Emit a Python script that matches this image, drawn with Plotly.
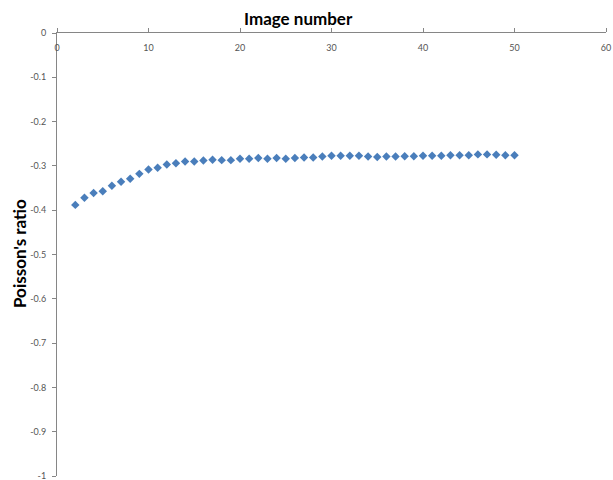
import plotly.graph_objects as go

# Image number vs Poisson's ratio
image_number = list(range(2, 51))
poisson_ratio = [
    -0.388, -0.372, -0.361, -0.357, -0.345, -0.336, -0.329, -0.318, -0.308,
    -0.304, -0.297, -0.294, -0.290, -0.290, -0.288, -0.286, -0.287, -0.287,
    -0.284, -0.284, -0.282, -0.284, -0.282, -0.284, -0.282, -0.281, -0.281,
    -0.279, -0.277, -0.277, -0.277, -0.277, -0.279, -0.280, -0.279, -0.279,
    -0.278, -0.278, -0.277, -0.277, -0.277, -0.276, -0.276, -0.276, -0.274,
    -0.274, -0.275, -0.276, -0.276,
]

x_ticks = [0, 10, 20, 30, 40, 50, 60]
y_ticks = [0, -0.1, -0.2, -0.3, -0.4, -0.5, -0.6, -0.7, -0.8, -0.9, -1]
y_tick_text = ["0", "-0.1", "-0.2", "-0.3", "-0.4", "-0.5", "-0.6", "-0.7", "-0.8", "-0.9", "-1"]

axis_color = "#868686"
tick_font = dict(family="Lato, Open Sans, sans-serif", size=9, color="#555555")
title_font = dict(family="Lato, Open Sans, sans-serif", size=17, color="black")

W, H = 613, 480
L, R, T, B = 57, 7, 33, 4
plot_w = W - L - R
plot_h = H - T - B

fig = go.Figure(
    go.Scatter(
        x=image_number,
        y=poisson_ratio,
        mode="markers",
        marker=dict(symbol="diamond", size=6.5, color="#4a7ebb"),
        hoverinfo="x+y",
    )
)

# invisible trace on the label axis so that it is drawn
fig.add_trace(
    go.Scatter(x=[None], y=[None], xaxis="x2", yaxis="y", showlegend=False,
               hoverinfo="skip")
)

fig.update_layout(
    width=W,
    height=H,
    margin=dict(l=L, r=R, t=T, b=B),
    paper_bgcolor="white",
    plot_bgcolor="white",
    showlegend=False,
    # axis line and upward ticks at the top edge
    xaxis=dict(
        range=[0, 60],
        side="top",
        tickvals=x_ticks,
        ticks="outside",
        ticklen=4,
        tickcolor=axis_color,
        showticklabels=False,
        showline=True,
        linecolor=axis_color,
        linewidth=1,
        showgrid=False,
        zeroline=False,
        automargin=False,
    ),
    # tick labels hanging just below the top axis line
    xaxis2=dict(
        range=[0, 60],
        overlaying="x",
        side="bottom",
        anchor="free",
        position=1,
        tickvals=x_ticks,
        ticktext=[str(v) for v in x_ticks],
        ticks="outside",
        ticklen=6,
        tickcolor="rgba(0,0,0,0)",
        showline=False,
        showgrid=False,
        zeroline=False,
        tickfont=tick_font,
        ticklabeloverflow="allow",
        automargin=False,
    ),
    yaxis=dict(
        range=[-1, 0],
        tickvals=y_ticks,
        ticktext=y_tick_text,
        ticks="outside",
        ticklen=4,
        tickcolor=axis_color,
        ticklabelstandoff=4,
        ticklabeloverflow="allow",
        showline=True,
        linecolor=axis_color,
        linewidth=1,
        showgrid=False,
        zeroline=False,
        tickfont=tick_font,
        automargin=False,
    ),
    annotations=[
        dict(
            text="<b>Image number</b>",
            x=(298 - L) / plot_w, y=1 + (T - 18) / plot_h,
            xref="paper", yref="paper",
            xanchor="center", yanchor="middle",
            showarrow=False,
            font=title_font,
        ),
        dict(
            text="<b>Poisson's ratio</b>",
            x=(19 - L) / plot_w, y=1 - (254 - T) / plot_h,
            xref="paper", yref="paper",
            xanchor="center", yanchor="middle",
            textangle=-90,
            showarrow=False,
            font=title_font,
        ),
    ],
)

fig.write_html("out.html")
